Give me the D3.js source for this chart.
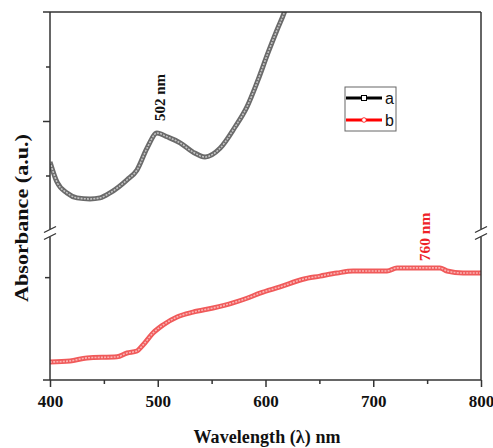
<!DOCTYPE html>
<html>
<head>
<meta charset="utf-8">
<script src="https://cdn.jsdelivr.net/npm/d3@7"></script>
<style>
  body { margin: 0; background: white; }
  text { font-family: "Liberation Serif", "Times New Roman", serif; }
</style>
</head>
<body>
<div id="chart"></div>
<script>
// chart values

const wavelengthA = [400, 406.5, 415.8, 425.1, 437.1, 446.4, 455.7, 471.5, 480.7, 490.0, 499.3, 508.6,
                     520.7, 532.7, 543.9, 557.8, 571.7, 582.8, 593.0, 602.3, 610.7, 617.2, 622.7];
const absorbA = [0.525, 0.488, 0.468, 0.459, 0.457, 0.459, 0.468, 0.492, 0.510, 0.550, 0.578, 0.571,
                 0.560, 0.543, 0.534, 0.550, 0.589, 0.626, 0.675, 0.725, 0.767, 0.798, 0.831];

const wavelengthB = [400, 418.6, 434.3, 462.2, 471.5, 480.7, 486.3, 495.6, 504.9, 517.9, 532.7, 551.3,
                     569.8, 582.8, 594.9, 613.5, 634.8, 650.6, 666.4, 681.2, 712.8, 722.0, 761.9,
                     768.5, 783.3, 800];
const absorbB = [0.035, 0.037, 0.043, 0.045, 0.0525, 0.0564, 0.068, 0.0914, 0.107, 0.1225, 0.132, 0.140,
                 0.150, 0.159, 0.169, 0.181, 0.196, 0.202, 0.208, 0.212, 0.212, 0.218, 0.218,
                 0.212, 0.208, 0.208];

const xTicks = [400, 500, 600, 700, 800];
const xMinorTicks = [450, 550, 650, 750];
const upperMajorTicks = [0.6];
const upperMinorTicks = [0.5, 0.7];
const lowerMinorTicks = [0.2];

const legendLabels = ["a", "b"];
const peakLabels = ["502 nm", "760 nm"];
const peakWavelengths = [502, 748];
const peakHeights = [0.643, 0.278];

width = 493;
height = 448;

const plotLeft = 50, plotRight = 481, plotTop = 12, plotBottom = 380, breakY = 233;
const axisColor = "#333";

svg = d3.select("#chart")
    .append("svg")
    .attr("width", width)
    .attr("height", height)
    .style("background", "white");

// scales: one x, two y panels (broken axis)
x = d3.scaleLinear().domain([400, 800]).range([plotLeft, plotRight]);
yA = d3.scaleLinear().domain([0.4, 0.8]).range([230, plotTop]);
yB = d3.scaleLinear().domain([0, 0.28]).range([plotBottom, 236]);

svg.append("clipPath").attr("id", "plot-clip")
    .append("rect")
    .attr("x", plotLeft).attr("y", plotTop)
    .attr("width", plotRight - plotLeft).attr("height", plotBottom - plotTop);

// curves drawn as a thick band with a light dashed core, like dense hollow markers
function draw_band(xs, ys, yScale, outer, inner) {
    var pts = xs.map((w, i) => [x(w), yScale(ys[i])]);
    var line = d3.line().curve(d3.curveMonotoneX);
    var g = svg.append("g").attr("clip-path", "url(#plot-clip)");
    g.append("path")
	.attr("d", line(pts))
	.attr("fill", "none")
	.attr("stroke", outer)
	.attr("stroke-width", 5)
	.attr("stroke-linejoin", "round");
    g.append("path")
	.attr("d", line(pts))
	.attr("fill", "none")
	.attr("stroke", inner)
	.attr("stroke-width", 1.6)
	.attr("stroke-dasharray", "2,1.2");
}

draw_band(wavelengthA, absorbA, yA, "#6a6a6a", "#c4c4c4");
draw_band(wavelengthB, absorbB, yB, "#f05a5a", "#fab4b4");

// frame: left and right axes broken at breakY
const gap = 4;
[plotLeft, plotRight].forEach(ax => {
    svg.append("line")
	.attr("x1", ax).attr("x2", ax)
	.attr("y1", plotTop).attr("y2", breakY - gap)
	.attr("stroke", axisColor).attr("stroke-width", 1.5);
    svg.append("line")
	.attr("x1", ax).attr("x2", ax)
	.attr("y1", breakY + gap).attr("y2", plotBottom)
	.attr("stroke", axisColor).attr("stroke-width", 1.5);
    [-gap + 0.5, gap - 0.5].forEach(off => {
	svg.append("line")
	    .attr("x1", ax - 6).attr("y1", breakY + off + 3)
	    .attr("x2", ax + 6).attr("y2", breakY + off - 3)
	    .attr("stroke", axisColor).attr("stroke-width", 1.3);
    });
});

// top border (with major tick stub) and bottom axis
svg.append("line")
    .attr("x1", plotLeft - 7).attr("x2", plotRight)
    .attr("y1", plotTop).attr("y2", plotTop)
    .attr("stroke", axisColor).attr("stroke-width", 1.5);

xAxis = d3.axisBottom(x)
    .tickValues(xTicks)
    .tickSize(7)
    .tickFormat(d3.format("d"));

gx = svg.append("g")
    .attr("transform", `translate(0,${plotBottom})`)
    .call(xAxis);
gx.select(".domain").remove();
gx.selectAll(".tick line").attr("stroke", axisColor).attr("stroke-width", 1.5);
gx.selectAll(".tick text")
    .attr("y", 15)
    .style("font-family", "'Liberation Serif', serif")
    .style("font-size", "17px")
    .style("font-weight", "bold")
    .attr("fill", "#111");

svg.append("line")
    .attr("x1", plotLeft - 7).attr("x2", plotRight)
    .attr("y1", plotBottom).attr("y2", plotBottom)
    .attr("stroke", axisColor).attr("stroke-width", 1.5);

svg.append("g")
    .attr("transform", `translate(0,${plotBottom})`)
    .call(d3.axisBottom(x).tickValues(xMinorTicks).tickSize(4).tickFormat(""))
    .call(g => g.select(".domain").remove())
    .selectAll("line").attr("stroke", axisColor).attr("stroke-width", 1.5);

// y ticks (no labels in the original)
function y_ticks(scale, values, size) {
    svg.append("g")
	.attr("transform", `translate(${plotLeft},0)`)
	.call(d3.axisLeft(scale).tickValues(values).tickSize(size).tickFormat(""))
	.call(g => g.select(".domain").remove())
	.selectAll("line").attr("stroke", axisColor).attr("stroke-width", 1.5);
}
y_ticks(yA, upperMajorTicks, 7);
y_ticks(yA, upperMinorTicks, 4);
y_ticks(yB, lowerMinorTicks, 5);

// axis titles
svg.append("text")
    .attr("x", 267)
    .attr("y", 443)
    .attr("text-anchor", "middle")
    .attr("textLength", 147)
    .attr("lengthAdjust", "spacing")
    .style("font-size", "18px")
    .style("font-weight", "bold")
    .attr("fill", "#111")
    .text("Wavelength (λ) nm");

svg.append("text")
    .attr("transform", "translate(28,218) rotate(-90)")
    .attr("text-anchor", "middle")
    .attr("textLength", 168)
    .attr("lengthAdjust", "spacingAndGlyphs")
    .style("font-size", "18px")
    .style("font-weight", "bold")
    .attr("fill", "#111")
    .text("Absorbance (a.u.)");

// peak annotations
const peakColors = ["#111", "#ee2228"];
const peakScales = [yA, yB];
const peakSizes = [15, 15.5];
peakLabels.forEach((lab, i) => {
    svg.append("text")
	.attr("transform",
	      `translate(${x(peakWavelengths[i]) + 5},${peakScales[i](peakHeights[i])}) rotate(-90)`)
	.attr("text-anchor", "middle")
	.style("font-size", peakSizes[i] + "px")
	.style("font-weight", "bold")
	.attr("fill", peakColors[i])
	.text(lab);
});

// legend
legend = svg.append("g").attr("transform", "translate(345,87)");
legend.append("rect")
    .attr("width", 51).attr("height", 44)
    .attr("fill", "white")
    .attr("stroke", "#666").attr("stroke-width", 1);

const legendColors = ["#000", "#ff0000"];
legendLabels.forEach((lab, i) => {
    var ly = 11 + i * 22;
    legend.append("line")
	.attr("x1", 1).attr("x2", 37)
	.attr("y1", ly).attr("y2", ly)
	.attr("stroke", legendColors[i]).attr("stroke-width", 3);
    if (i == 0) {
	legend.append("rect")
	    .attr("x", 16.5).attr("y", ly - 2.5)
	    .attr("width", 5).attr("height", 5)
	    .attr("fill", "white").attr("stroke", "#000").attr("stroke-width", 1);
    } else {
	legend.append("circle")
	    .attr("cx", 19).attr("cy", ly).attr("r", 2.3)
	    .attr("fill", "white").attr("stroke", "#ff0000").attr("stroke-width", 0.8);
    }
    legend.append("text")
	.attr("x", 40)
	.attr("y", ly + 5.5)
	.style("font-family", "'Liberation Sans', Arial, sans-serif")
	.style("font-size", "16px")
	.attr("fill", "#111")
	.text(lab);
});
</script>
</body>
</html>
